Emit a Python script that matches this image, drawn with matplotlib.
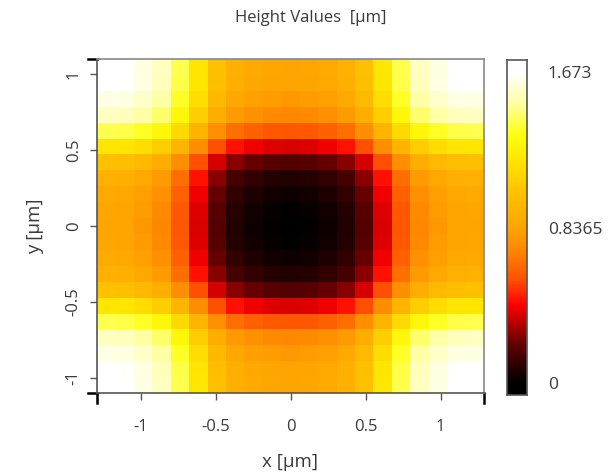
import numpy as np
import matplotlib
matplotlib.use("Agg")
import matplotlib.pyplot as plt
from matplotlib.colors import LinearSegmentedColormap, Normalize
from matplotlib.lines import Line2D

# ---- data ----
# height profile along one axis (µm), 21 cells, symmetric about the centre
profile = [0.8365, 0.83, 0.79, 0.72, 0.57, 0.37, 0.18, 0.075, 0.033, 0.008, 0.0,
           0.008, 0.033, 0.075, 0.18, 0.37, 0.57, 0.72, 0.79, 0.83, 0.8365]
x_range = [-1.29, 1.29]
y_range = [-1.10, 1.10]
x_ticks = [-1, -0.5, 0, 0.5, 1]
x_tick_labels = ["-1", "-0.5", "0", "0.5", "1"]
y_ticks = [-1, -0.5, 0, 0.5, 1]
y_tick_labels = ["-1", "-0.5", "0", "0.5", "1"]
z_min, z_max = 0.0, 1.673
cbar_ticks = [0.0, 0.8365, 1.673]
cbar_labels = ["0", "0.8365", "1.673"]
title = "Height Values  [µm]"
xlabel = "x [µm]"
ylabel = "y [µm]"

p = np.array(profile)
Z = p[:, None] + p[None, :]

cmap = LinearSegmentedColormap.from_list("heat", [
    (0.00, "#000000"), (0.12, "#600000"), (0.25, "#ff0000"), (0.33, "#ff5000"),
    (0.42, "#ff8400"), (0.50, "#ffa500"), (0.62, "#ffc400"), (0.72, "#ffe600"),
    (0.80, "#ffff10"), (0.90, "#ffffa0"), (1.00, "#ffffff")])
norm = Normalize(vmin=z_min, vmax=z_max)

plt.rcParams['font.family'] = ['Open Sans', 'DejaVu Sans']
txt_color = "#3a3a3a"

fig = plt.figure(figsize=(6.15, 4.74), dpi=100)
ax = fig.add_axes([97/615, 1-393/474, (484-97)/615, (393-59)/474])
ax.imshow(Z, cmap=cmap, norm=norm, origin="lower", aspect="auto",
          extent=[x_range[0], x_range[1], y_range[0], y_range[1]],
          interpolation="nearest")
ax.set_xlim(x_range)
ax.set_ylim(y_range)
ax.set_xticks(x_ticks)
ax.set_xticklabels(x_tick_labels)
ax.set_yticks(y_ticks)
ax.set_yticklabels(y_tick_labels, rotation=90, va="center")
ax.tick_params(direction="out", length=5, width=1, color="#555555",
               labelcolor=txt_color, labelsize=12, pad=6)
ax.tick_params(axis="x", pad=14)
for s in ["top", "right"]:
    ax.spines[s].set_color("#888888")
for s in ["left", "bottom"]:
    ax.spines[s].set_color("#555555")
for s in ax.spines.values():
    s.set_linewidth(1.2)

# little end marks on the axes
for xa in (0, 1):
    ax.add_line(Line2D([xa, xa], [0, -0.03], transform=ax.transAxes,
                       color="black", lw=1.8, clip_on=False))
for ya in (0, 1):
    ax.add_line(Line2D([0, -0.022], [ya, ya], transform=ax.transAxes,
                       color="black", lw=1.8, clip_on=False))

fig.text(290/615, 1-462/474, xlabel, ha="center", va="center",
         fontsize=13.5, color=txt_color)
fig.text(35/615, 1-226/474, ylabel, ha="center", va="center",
         fontsize=13.5, color=txt_color, rotation=90)
fig.text(311/615, 1-18/474, title, ha="center", va="center",
         fontsize=12, color=txt_color)

# colour bar
cax = fig.add_axes([507/615, 1-395/474, 20/615, (395-60)/474])
pad = (z_max - z_min) * 12 / 311
lo, hi = z_min - pad, z_max + pad
grad = np.linspace(lo, hi, 400)[:, None]
cax.imshow(grad, cmap=cmap, norm=norm, origin="lower", aspect="auto",
           extent=[0, 1, lo, hi])
cax.set_xlim(0, 1)
cax.set_ylim(lo, hi)
cax.set_xticks([])
cax.yaxis.tick_right()
cax.set_yticks(cbar_ticks)
cax.set_yticklabels(cbar_labels)
cax.tick_params(axis="y", length=0, pad=15, labelsize=12.5, labelcolor=txt_color)
for s in cax.spines.values():
    s.set_color("#555555")
    s.set_linewidth(1.2)

fig.savefig("out.png", dpi=100)
